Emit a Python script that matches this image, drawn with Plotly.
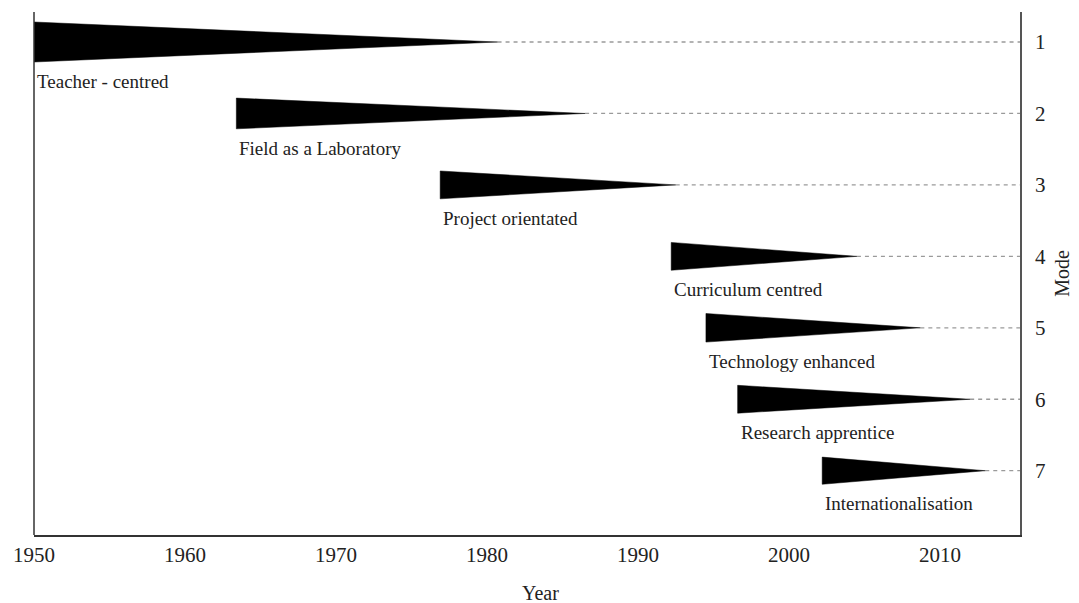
import plotly.graph_objects as go

# Data
modes = ["Teacher - centred", "Field as a Laboratory", "Project orientated",
         "Curriculum centred", "Technology enhanced", "Research apprentice",
         "Internationalisation"]
mode_rank = [1, 2, 3, 4, 5, 6, 7]
start_year = [1950.0, 1963.4, 1976.9, 1992.2, 1994.5, 1996.6, 2002.2]
end_year = [1980.7, 1986.5, 1992.5, 2004.5, 2008.7, 2012.0, 2013.0]
wedge_height = [0.56, 0.43, 0.39, 0.39, 0.40, 0.39, 0.38]
year_ticks = [1950, 1960, 1970, 1980, 1990, 2000, 2010]
x_max = 2015.3

FONT = "Liberation Serif, Times New Roman, serif"

fig = go.Figure()

for m, r, s, e, h in zip(modes, mode_rank, start_year, end_year, wedge_height):
    # dashed continuation line
    fig.add_trace(go.Scatter(
        x=[e, x_max], y=[r, r], mode="lines",
        line=dict(color="#9a9a9a", width=1.3, dash="4px,4px"),
        hoverinfo="skip", showlegend=False))
    # wedge
    fig.add_trace(go.Scatter(
        x=[s, s, e, s], y=[r - h / 2, r + h / 2, r, r - h / 2],
        mode="lines", fill="toself", fillcolor="black",
        line=dict(color="black", width=0.5),
        hoverinfo="skip", showlegend=False))
    fig.add_annotation(
        x=s, y=r + h / 2, text=m, showarrow=False,
        xanchor="left", yanchor="top", xshift=1, yshift=-7,
        font=dict(family=FONT, size=19, color="#222"))

fig.add_shape(type="line", xref="paper", yref="paper", x0=0, x1=0, y0=0, y1=1,
              line=dict(color="#333", width=1.5))

# x-axis title
fig.add_annotation(x=0.514, y=-0.111, xref="paper", yref="paper", text="Year",
                   showarrow=False, xanchor="center", yanchor="middle",
                   font=dict(family=FONT, size=20, color="#222"))

fig.update_layout(
    width=1079, height=603,
    margin=dict(l=34, r=59, t=12, b=68),
    paper_bgcolor="white", plot_bgcolor="white",
    font=dict(family=FONT, size=19, color="#222"),
    xaxis=dict(
        range=[1950, x_max], tickvals=year_ticks,
        ticktext=[str(v) for v in year_ticks],
        showgrid=False, zeroline=False, showline=True, automargin=False,
        linecolor="#333", linewidth=1.5, ticks="",
        tickfont=dict(family=FONT, size=21)),
    yaxis=dict(
        range=[7.9, 0.58], side="right", tickvals=mode_rank,
        ticktext=[str(v) for v in mode_rank],
        showgrid=False, zeroline=False, showline=True, automargin=False,
        linecolor="#555", linewidth=1.5, ticks="",
        ticklabelstandoff=9,
        title=dict(text="Mode", font=dict(family=FONT, size=20), standoff=10),
        tickfont=dict(family=FONT, size=21)),
)

fig.write_html("out.html", config={"displayModeBar": False},
               post_script="document.body.style.margin='0px';document.body.style.overflow='hidden';")
